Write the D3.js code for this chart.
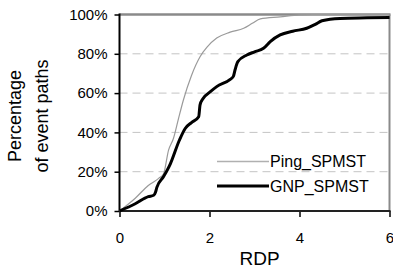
<!DOCTYPE html>
<html>
<head>
<meta charset="utf-8">
<script src="https://cdn.jsdelivr.net/npm/d3@7"></script>
<style>
body{margin:0;background:#fff;}
text{font-family:"Liberation Sans",Arial,sans-serif;fill:#000;}
</style>
</head>
<body>
<svg id="chart"></svg>
<script>
// data
var xTicks = [0, 2, 4, 6];
var yTicks = [0, 20, 40, 60, 80, 100];
var seriesNames = ["Ping_SPMST", "GNP_SPMST"];

var pingX = [0, 0.35, 0.64, 0.87, 0.98, 1.09, 1.2, 1.3, 1.42, 1.6, 1.79, 1.95, 2.16, 2.46, 2.76, 2.95, 3.13, 3.57, 4.0, 4.3, 6];
var pingY = [0, 6.5, 13, 16.6, 19, 31, 37, 46, 56.5, 69, 78.5, 83.5, 88, 91, 93, 95.5, 97.8, 98.8, 99.8, 100, 100];

var gnpX = [0, 0.35, 0.64, 0.76, 0.8, 0.83, 0.98, 1.13, 1.33, 1.46, 1.6, 1.76, 1.79, 1.85, 2.02, 2.16, 2.46, 2.53, 2.57, 2.63, 2.83, 3.0, 3.2, 3.35, 3.57, 3.85, 4.16, 4.35, 4.5, 4.9, 5.5, 6.0];
var gnpY = [0, 3.7, 7.3, 8, 9.5, 12, 17.5, 24, 36, 42, 45, 48, 54, 57, 60.7, 63.3, 67, 68.5, 72, 76, 79.4, 81, 82.8, 86.2, 89.6, 91.5, 93, 95, 96.8, 98, 98.3, 98.5];

function init(){
    var width = 393;
    var height = 270;
    var left = 119.5, right = 389.5, top = 14.5, bottom = 211;
    var svg = d3.select("#chart").attr("width", width).attr("height", height);

    var x = d3.scaleLinear().domain([0, 6]).range([left, right]);
    var y = d3.scaleLinear().domain([0, 100]).range([bottom, top]);

    // dashed grid
    svg.append("g")
    .selectAll("line")
    .data(yTicks.filter(function(d){return d > 0 && d < 100;}))
    .enter()
    .append("line")
    .attr("x1", left)
    .attr("x2", right)
    .attr("y1", function(d){return y(d)})
    .attr("y2", function(d){return y(d)})
    .attr("stroke", "#c4c4c4")
    .attr("stroke-width", 1)
    .attr("stroke-dasharray", "8,5");

    // top and right frame
    svg.append("line").attr("x1", left).attr("x2", right + 1).attr("y1", top).attr("y2", top)
        .attr("stroke", "#8a8a8a").attr("stroke-width", 2.5);
    svg.append("line").attr("x1", right).attr("x2", right).attr("y1", top).attr("y2", bottom)
        .attr("stroke", "#8a8a8a").attr("stroke-width", 2);

    // axes
    var yAxis = d3.axisLeft(y).tickValues(yTicks).tickSize(5).tickPadding(7)
        .tickFormat(function(d){return d + "%"});
    var gy = svg.append("g").attr("transform", "translate(" + left + ",0)").call(yAxis);
    var xAxis = d3.axisBottom(x).tickValues(xTicks).tickSize(6).tickPadding(15)
        .tickFormat(d3.format("d"));
    var gx = svg.append("g").attr("transform", "translate(0," + bottom + ")").call(xAxis);
    [gx, gy].forEach(function(g){
        g.select(".domain").remove();
        g.selectAll(".tick line").attr("stroke", "#000").attr("stroke-width", 1.5);
        g.selectAll(".tick text").style("font-size", "15px").attr("fill", "#000");
    });
    svg.append("line").attr("x1", left).attr("x2", left).attr("y1", top - 1).attr("y2", bottom + 1)
        .attr("stroke", "#000").attr("stroke-width", 2);
    svg.append("line").attr("x1", left).attr("x2", right + 1).attr("y1", bottom).attr("y2", bottom)
        .attr("stroke", "#222").attr("stroke-width", 2);

    // lines
    var line = d3.line()
                .x(function(d){return x(d[0])})
                .y(function(d){return y(d[1])})
                .curve(d3.curveMonotoneX);
    var pingData = pingX.map(function(v, i){return [v, pingY[i]]});
    var gnpData = gnpX.map(function(v, i){return [v, gnpY[i]]});
    svg.append("path")
        .attr("fill", "none")
        .attr("stroke", "#9a9a9a")
        .attr("stroke-width", 1.2)
        .attr("d", line(pingData));
    svg.append("path")
        .attr("fill", "none")
        .attr("stroke", "#000")
        .attr("stroke-width", 3)
        .attr("stroke-linejoin", "round")
        .attr("d", line(gnpData));

    // legend
    var legend = [
        {title: seriesNames[0], color: "#b0b0b0", w: 1.5, y: 161.5},
        {title: seriesNames[1], color: "#000", w: 3, y: 186}
    ];
    var lg = svg.append("g");
    lg.selectAll("line")
    .data(legend)
    .enter()
    .append("line")
    .attr("x1", 217)
    .attr("x2", 269)
    .attr("y1", function(d){return d.y})
    .attr("y2", function(d){return d.y})
    .attr("stroke", function(d){return d.color})
    .attr("stroke-width", function(d){return d.w});
    lg.selectAll("text")
    .data(legend)
    .enter()
    .append("text")
    .attr("x", 270)
    .attr("y", function(d){return d.y})
    .attr("dominant-baseline", "central")
    .style("font-size", "16px")
    .text(function(d){return d.title});

    // axis titles
    svg.append("text")
        .attr("x", (left + right) / 2 + 5)
        .attr("y", 265)
        .attr("text-anchor", "middle")
        .style("font-size", "19px")
        .text("RDP");
    svg.append("text")
        .attr("transform", "translate(21,116) rotate(-90)")
        .attr("text-anchor", "middle")
        .style("font-size", "18px")
        .text("Percentage");
    svg.append("text")
        .attr("transform", "translate(48,116) rotate(-90)")
        .attr("text-anchor", "middle")
        .style("font-size", "18px")
        .text("of event paths");
}
init();
</script>
</body>
</html>
